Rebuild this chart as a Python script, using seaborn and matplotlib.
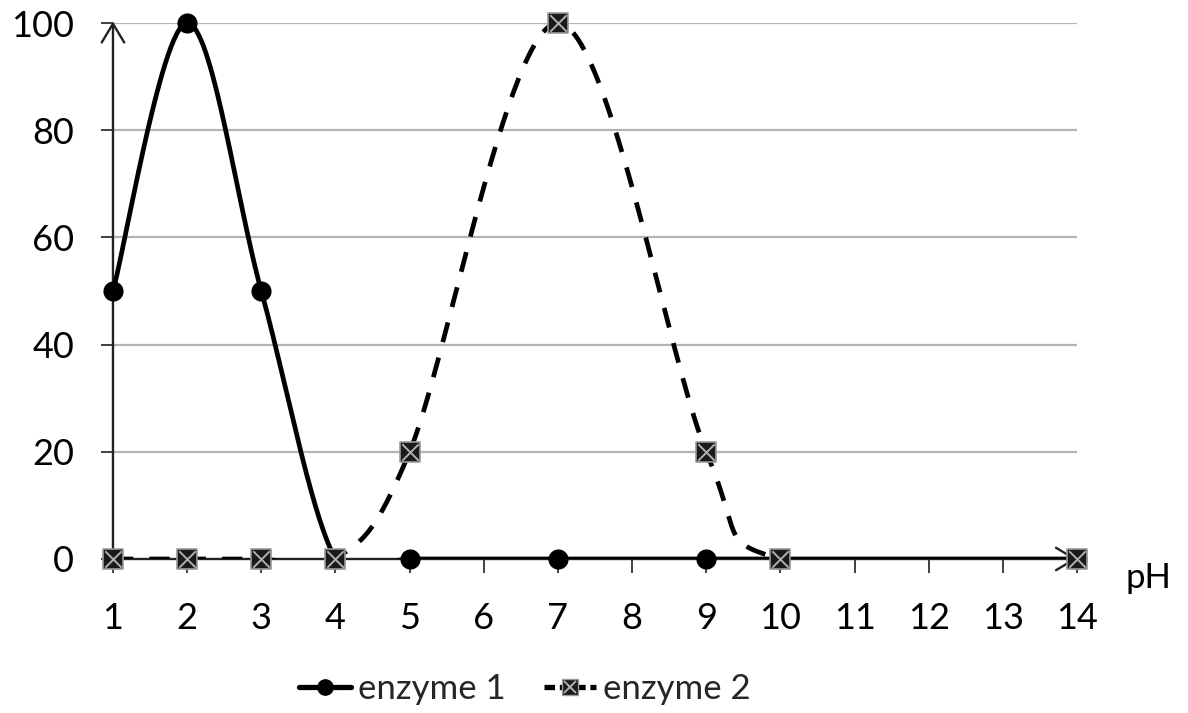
import numpy as np
import pandas as pd
import matplotlib
matplotlib.use("Agg")
import matplotlib.pyplot as plt
from matplotlib.lines import Line2D
import seaborn as sns

# ---- data ----
ph = [1, 2, 3, 4, 5, 7, 9, 10, 14]
enzyme1 = [50, 100, 50, 0, 0, 0, 0, 0, 0]
enzyme2 = [0, 0, 0, 0, 20, 100, 20, 0, 0]
x_ticks = list(range(1, 15))
y_ticks = [0, 20, 40, 60, 80, 100]
series_names = ["enzyme 1", "enzyme 2"]


def smooth(xs, ys, n=60):
    """Excel-like Catmull-Rom/Bezier smoothing of a scatter series."""
    P = np.column_stack([xs, ys]).astype(float)
    out = []
    for i in range(len(P) - 1):
        p0 = P[i - 1] if i > 0 else P[i]
        p1, p2 = P[i], P[i + 1]
        p3 = P[i + 2] if i + 2 < len(P) else P[i + 1]
        c1 = p1 + (p2 - p0) / 6.0
        c2 = p2 - (p3 - p1) / 6.0
        t = np.linspace(0, 1, n)[:, None]
        seg = ((1 - t) ** 3) * p1 + 3 * ((1 - t) ** 2) * t * c1 + 3 * (1 - t) * t ** 2 * c2 + t ** 3 * p2
        out.append(seg if i == 0 else seg[1:])
    seg = np.vstack(out)
    return seg[:, 0], seg[:, 1]


sns.set_theme(style="white")
plt.rcParams["font.family"] = ["Lato", "DejaVu Sans"]

fig = plt.figure(figsize=(11.88, 7.13), dpi=100)
ax = fig.add_axes([0.0951, 0.216, 0.9066 - 0.0951, 0.9677 - 0.216])

ax.set_xlim(1, 14)
ax.set_ylim(0, 100)

# gridlines
for yv in y_ticks[1:]:
    ax.axhline(yv, color="#b4b4b4", lw=1.6, zorder=0.5)

# smooth lines
sx1, sy1 = smooth(ph, enzyme1)
sx2, sy2 = smooth(ph, enzyme2)
df1 = pd.DataFrame({"x": sx1, "y": sy1})
df2 = pd.DataFrame({"x": sx2, "y": sy2})

# axes with arrows
arrow_kw = dict(arrowstyle="->,head_length=0.5,head_width=0.3", color="#222222", lw=1.7,
                mutation_scale=27, shrinkA=0, shrinkB=0)
ax.annotate("", xy=(1, 100.3), xytext=(1, 0), xycoords="data",
            arrowprops=arrow_kw, annotation_clip=False, zorder=1)
ax.annotate("", xy=(14, 0), xytext=(1, 0), xycoords="data",
            arrowprops=arrow_kw, annotation_clip=False, zorder=1)

sns.lineplot(data=df1, x="x", y="y", sort=False, ax=ax, color="black",
             lw=3.4, estimator=None, zorder=3)
sns.lineplot(data=df2, x="x", y="y", sort=False, ax=ax, color="black",
             lw=3.4, estimator=None, zorder=4)
ax.lines[-1].set_dashes((4.3, 3.4))

# markers
d1 = pd.DataFrame({"x": ph, "y": enzyme1})
d2 = pd.DataFrame({"x": ph, "y": enzyme2})
sns.scatterplot(data=d1, x="x", y="y", ax=ax, marker="o", s=210,
                color="black", edgecolor="black", linewidth=0, zorder=5)
sns.scatterplot(data=d2, x="x", y="y", ax=ax, marker="s", s=220,
                color="#1a1a1a", edgecolor="#9a9a9a", linewidth=1.2, zorder=6)
sns.scatterplot(data=d2, x="x", y="y", ax=ax, marker="x", s=140,
                color="#b0b0b0", linewidth=1.4, zorder=7)

for c in ax.collections:
    c.set_clip_on(False)

for s in ax.spines.values():
    s.set_visible(False)

ax.set_xticks(x_ticks)
ax.set_yticks(y_ticks)
ax.set_xticklabels([str(v) for v in x_ticks])
ax.set_yticklabels([str(v) for v in y_ticks])
ax.tick_params(axis="x", bottom=True, length=10, width=1.3, color="#333333",
               pad=21, labelsize=26, labelcolor="black", direction="out")
ax.tick_params(axis="y", left=True, length=9, width=1.3, color="#333333",
               pad=19, labelsize=26, labelcolor="black", direction="out")
ax.set_xlabel("")
ax.set_ylabel("")

ax.text(1.05, -0.035, "pH", transform=ax.transAxes, fontsize=25,
        ha="left", va="center", color="black")

h1 = Line2D([0], [0], color="black", lw=3.8, marker="o", markersize=11)
h2a = Line2D([0], [0], color="black", lw=3.8, marker="s", markersize=11,
             markerfacecolor="#1a1a1a", markeredgecolor="#9a9a9a", dashes=(2.0, 0.9))
h2b = Line2D([0], [0], color="#b0b0b0", lw=0, marker="x", markersize=8, markeredgewidth=1.4)
leg = fig.legend([h1, (h2a, h2b)], series_names, loc="center",
                 bbox_to_anchor=(0.442, 0.033), ncol=2, frameon=False,
                 fontsize=25, handlelength=1.5, handletextpad=0.2,
                 columnspacing=1.1)

fig.savefig("out.png", dpi=100)
